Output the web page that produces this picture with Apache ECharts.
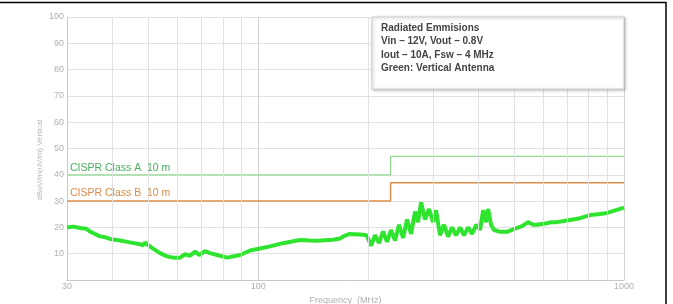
<!DOCTYPE html>
<html>
<head>
<meta charset="utf-8">
<script src="https://cdn.jsdelivr.net/npm/echarts@6/dist/echarts.min.js"></script>
<style>html,body{margin:0;padding:0;background:#fff;}#c{width:673px;height:304px;}</style>
</head>
<body>
<div id="c"></div>
<script>
// Measured emission trace: [frequency MHz, dBuV/m]
const emission = [
  [30,20],[31.2,20.3],[32.6,19.8],[33.8,19.5],[34.7,18.4],[35.8,17.5],[36.9,16.6],[38.1,16.3],
  [39.3,15.6],[41.9,15],[44.6,14.3],[47.5,13.6],[48.4,13.2],[49,14.2],[50,13.3],[51.2,12.2],
  [53.9,10.2],[56.3,9],[58.5,8.5],[61.1,8.5],[63.1,9.8],[65.1,9.2],[67.2,10.8],[68.9,9.5],
  [71.5,11],[73.8,10.2],[77.2,9.5],[82.2,8.5],[89.2,9.5],[95,11.2],[101.2,12],[107.7,12.8],
  [116.9,14],[130,15.2],[138.5,15],[144.8,14.9],[160,15.3],[167.3,15.8],[172.7,16.9],[178,17.5],
  [189.8,17.3],[198,17],
  [203.4,13],[208.6,17],[214,14],[219.4,18.5],[225,14.5],[230.7,19],[236.6,15],[242.6,21],
  [248.9,16],[255.2,23],[261.7,17.5],[268.4,26],[273.5,22],[278.7,29.5],[285.8,23],[293.1,27],
  [300.6,22],[306.2,26.5],[314.1,17],[322.2,21],[330.3,16.5],[338.8,20],[347.4,17],[356.3,20],
  [365.4,17],[374.8,20],[384.4,17.5],[394.2,21],[404.2,19],[411.9,26.5],[419.7,22],[425,27],
  [433.1,21],[441.4,19],[458.5,18.3],[479,18.3],[503.9,19.5],[526.4,20.5],[546.6,22],[564.1,21],
  [578.5,21],[608.4,21.5],[635.9,22],[656.4,22],[690.1,22.5],[725.7,23],[758.4,23.5],[807.6,24.7],
  [849.3,25],[899.2,25.5],[945.5,26.5],[1000,27.5]
];
// CISPR limits (10 m)
const classA = [[30,40],[230,40],[230,47],[1000,47]];
const classB = [[30,30],[230,30],[230,37],[1000,37]];
// Minor vertical grid frequencies
const minorGridFreqs = [40,50,60,70,80,90,200,300,400,500,600,700,800,900];
const infoLines = ['Radiated Emmisions','Vin – 12V, Vout – 0.8V','Iout – 10A, Fsw – 4 MHz','Green: Vertical Antenna'];
const classALabel = 'CISPR Class A  10 m';
const classBLabel = 'CISPR Class B  10 m';
const yTitle = 'dBuV/m(uV/m) Vertical';
const xTitle = 'Frequency  (MHz)';

const chart = echarts.init(document.getElementById('c'), null, {renderer:'canvas'});
const font = 'Liberation Sans, Arial, sans-serif';
chart.setOption({
  animation:false,
  backgroundColor:'#fff',
  grid:{left:67,right:49,top:17,bottom:24,containLabel:false,outerBoundsMode:'none'},
  xAxis:{
    type:'log', logBase:10, min:30, max:1000,
    axisLine:{lineStyle:{color:'#c8c8c8'}},
    axisTick:{show:false},
    axisLabel:{color:'#b0b0b0',fontSize:9,fontFamily:font,margin:2,showMinLabel:true,showMaxLabel:true,
      formatter:v=>String(Math.round(v))},
    splitLine:{show:true,lineStyle:{color:'#d4d4d4',width:1}},
    minorTick:{show:false},
    name:xTitle, nameLocation:'middle', nameGap:12,
    nameTextStyle:{color:'#b0b0b0',fontSize:9,fontFamily:font}
  },
  yAxis:{
    type:'value', min:0, max:100, interval:10,
    axisLine:{show:true,lineStyle:{color:'#c8c8c8'}},
    axisTick:{show:false},
    axisLabel:{color:'#b0b0b0',fontSize:9,fontFamily:font,margin:3,formatter:v=>v===0?'':String(v)},
    splitLine:{lineStyle:{color:'#e2e2e2',width:1.2}}
  },
  series:[
    {type:'line',data:[],silent:true,
      markLine:{silent:true,symbol:'none',label:{show:false},
        lineStyle:{color:'#e2e2e2',type:'solid',width:1},
        data:minorGridFreqs.map(f=>({xAxis:f}))}},
    {type:'line',data:classA,showSymbol:false,lineStyle:{color:'#8fdc8f',width:1.2},z:3},
    {type:'line',data:classB,showSymbol:false,lineStyle:{color:'#dc8f4c',width:1.5},z:3},
    {type:'line',data:emission,showSymbol:false,lineStyle:{color:'#2fe42f',width:4},z:4}
  ],
  graphic:[
    {type:'rect',shape:{x:-2,y:2.5,width:668,height:320},style:{fill:'none',stroke:'#000',lineWidth:1.5},silent:true},
    {type:'rect',shape:{x:372,y:17,width:252,height:72},style:{fill:'#fff',stroke:'#d0d0d0',lineWidth:1,shadowBlur:3,shadowColor:'rgba(0,0,0,0.25)',shadowOffsetX:1,shadowOffsetY:1},z:10},
    {type:'text',x:381,y:21,z:11,style:{text:infoLines.join('\n'),fill:'#444',font:'bold 10px '+font,lineHeight:13.6}},
    {type:'text',x:70,y:168,z:11,style:{text:classALabel,fill:'#4aae5e',font:'10.5px '+font,verticalAlign:'middle'}},
    {type:'text',x:70,y:193,z:11,style:{text:classBLabel,fill:'#d98a45',font:'10.5px '+font,verticalAlign:'middle'}},
    {type:'text',x:40,y:160,rotation:Math.PI/2,z:11,style:{text:yTitle,fill:'#b8b8b8',font:'8px '+font,align:'center',verticalAlign:'middle'}}
  ]
});
</script>
</body>
</html>
